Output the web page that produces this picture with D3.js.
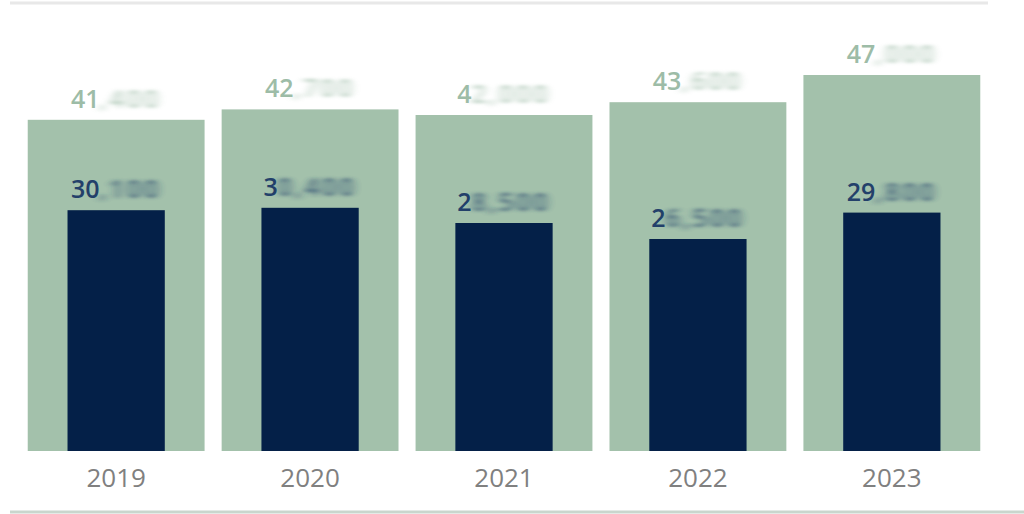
<!DOCTYPE html>
<html><head><meta charset="utf-8">
<script src="https://cdn.jsdelivr.net/npm/d3@7"></script>
<style>html,body{margin:0;padding:0;background:#fff;}svg{display:block;}</style>
</head><body>
<svg id="c" width="1024" height="514"></svg>
<script>
const years = ["2019","2020","2021","2022","2023"];
const totalValues = [41400, 42700, 42000, 43600, 47000];
const innerValues = [30100, 30400, 28500, 26500, 29800];
const totalLabels = ["41,400","42,700","42,000","43,600","47,000"];
const innerLabels = ["30,100","30,400","28,500","26,500","29,800"];
const totalVisible = [2,2,1,2,2];
const innerVisible = [2,1,1,1,2];

const svg = d3.select("#c");
const defs = svg.append("defs");
defs.append("filter").attr("id","blur").attr("x","-20%").attr("y","-60%").attr("width","140%").attr("height","220%")
  .append("feGaussianBlur").attr("stdDeviation","4.5 1.8");

const x = d3.scaleBand().domain(years).range([19, 989]).paddingInner(0.088).paddingOuter(0.045);
const y = d3.scaleLinear().domain([0, 50000]).range([451, 51]);

svg.append("line").attr("x1",10).attr("x2",988).attr("y1",3).attr("y2",3)
  .attr("stroke","#e8e8e8").attr("stroke-width",3);
svg.append("line").attr("x1",10).attr("x2",1024).attr("y1",512).attr("y2",512)
  .attr("stroke","#c9d6cd").attr("stroke-width",3);

const g = svg.append("g");
g.selectAll("rect.t").data(years).join("rect").attr("class","t")
  .attr("x", d=>x(d)).attr("width", x.bandwidth())
  .attr("y", (d,i)=>y(totalValues[i])).attr("height",(d,i)=>y(0)-y(totalValues[i]))
  .attr("fill","#a3c1ab");
const iw = x.bandwidth()*0.55;
g.selectAll("rect.i").data(years).join("rect").attr("class","i")
  .attr("x", d=>x(d)+(x.bandwidth()-iw)/2).attr("width", iw)
  .attr("y", (d,i)=>y(innerValues[i])).attr("height",(d,i)=>y(0)-y(innerValues[i]))
  .attr("fill","#042048");

function label(txt, vis, cx, by, color){
  const a = txt.slice(0,vis), b = txt.slice(vis);
  const common = s=>s.attr("font-family","'Open Sans', sans-serif").attr("font-size",25).attr("font-weight",600).attr("fill",color);
  const t1 = g.append("text").text(a).call(common).attr("y",by);
  const t2 = g.append("text").text(b).call(common).attr("y",by).attr("letter-spacing",3)
    .attr("filter","url(#blur)").attr("opacity",0.75);
  const w1 = t1.node().getComputedTextLength(), w2 = t2.node().getComputedTextLength();
  const x0 = cx - (w1+w2)/2;
  t1.attr("x", x0); t2.attr("x", x0+w1);
}
years.forEach((d,i)=>{
  const cx = x(d)+x.bandwidth()/2;
  label(totalLabels[i], totalVisible[i], cx, y(totalValues[i])-12, "#9dbca7");
  label(innerLabels[i], innerVisible[i], cx, y(innerValues[i])-12, "#23406a");
});

const axis = d3.axisBottom(x).tickSize(0).tickPadding(0);
const ax = svg.append("g").attr("transform","translate(0,469)").call(axis);
ax.select(".domain").remove();
ax.selectAll("text").attr("font-family","'Open Sans', sans-serif").attr("font-size",26).attr("fill","#808080").attr("dy","0.71em");
</script>
</body></html>
